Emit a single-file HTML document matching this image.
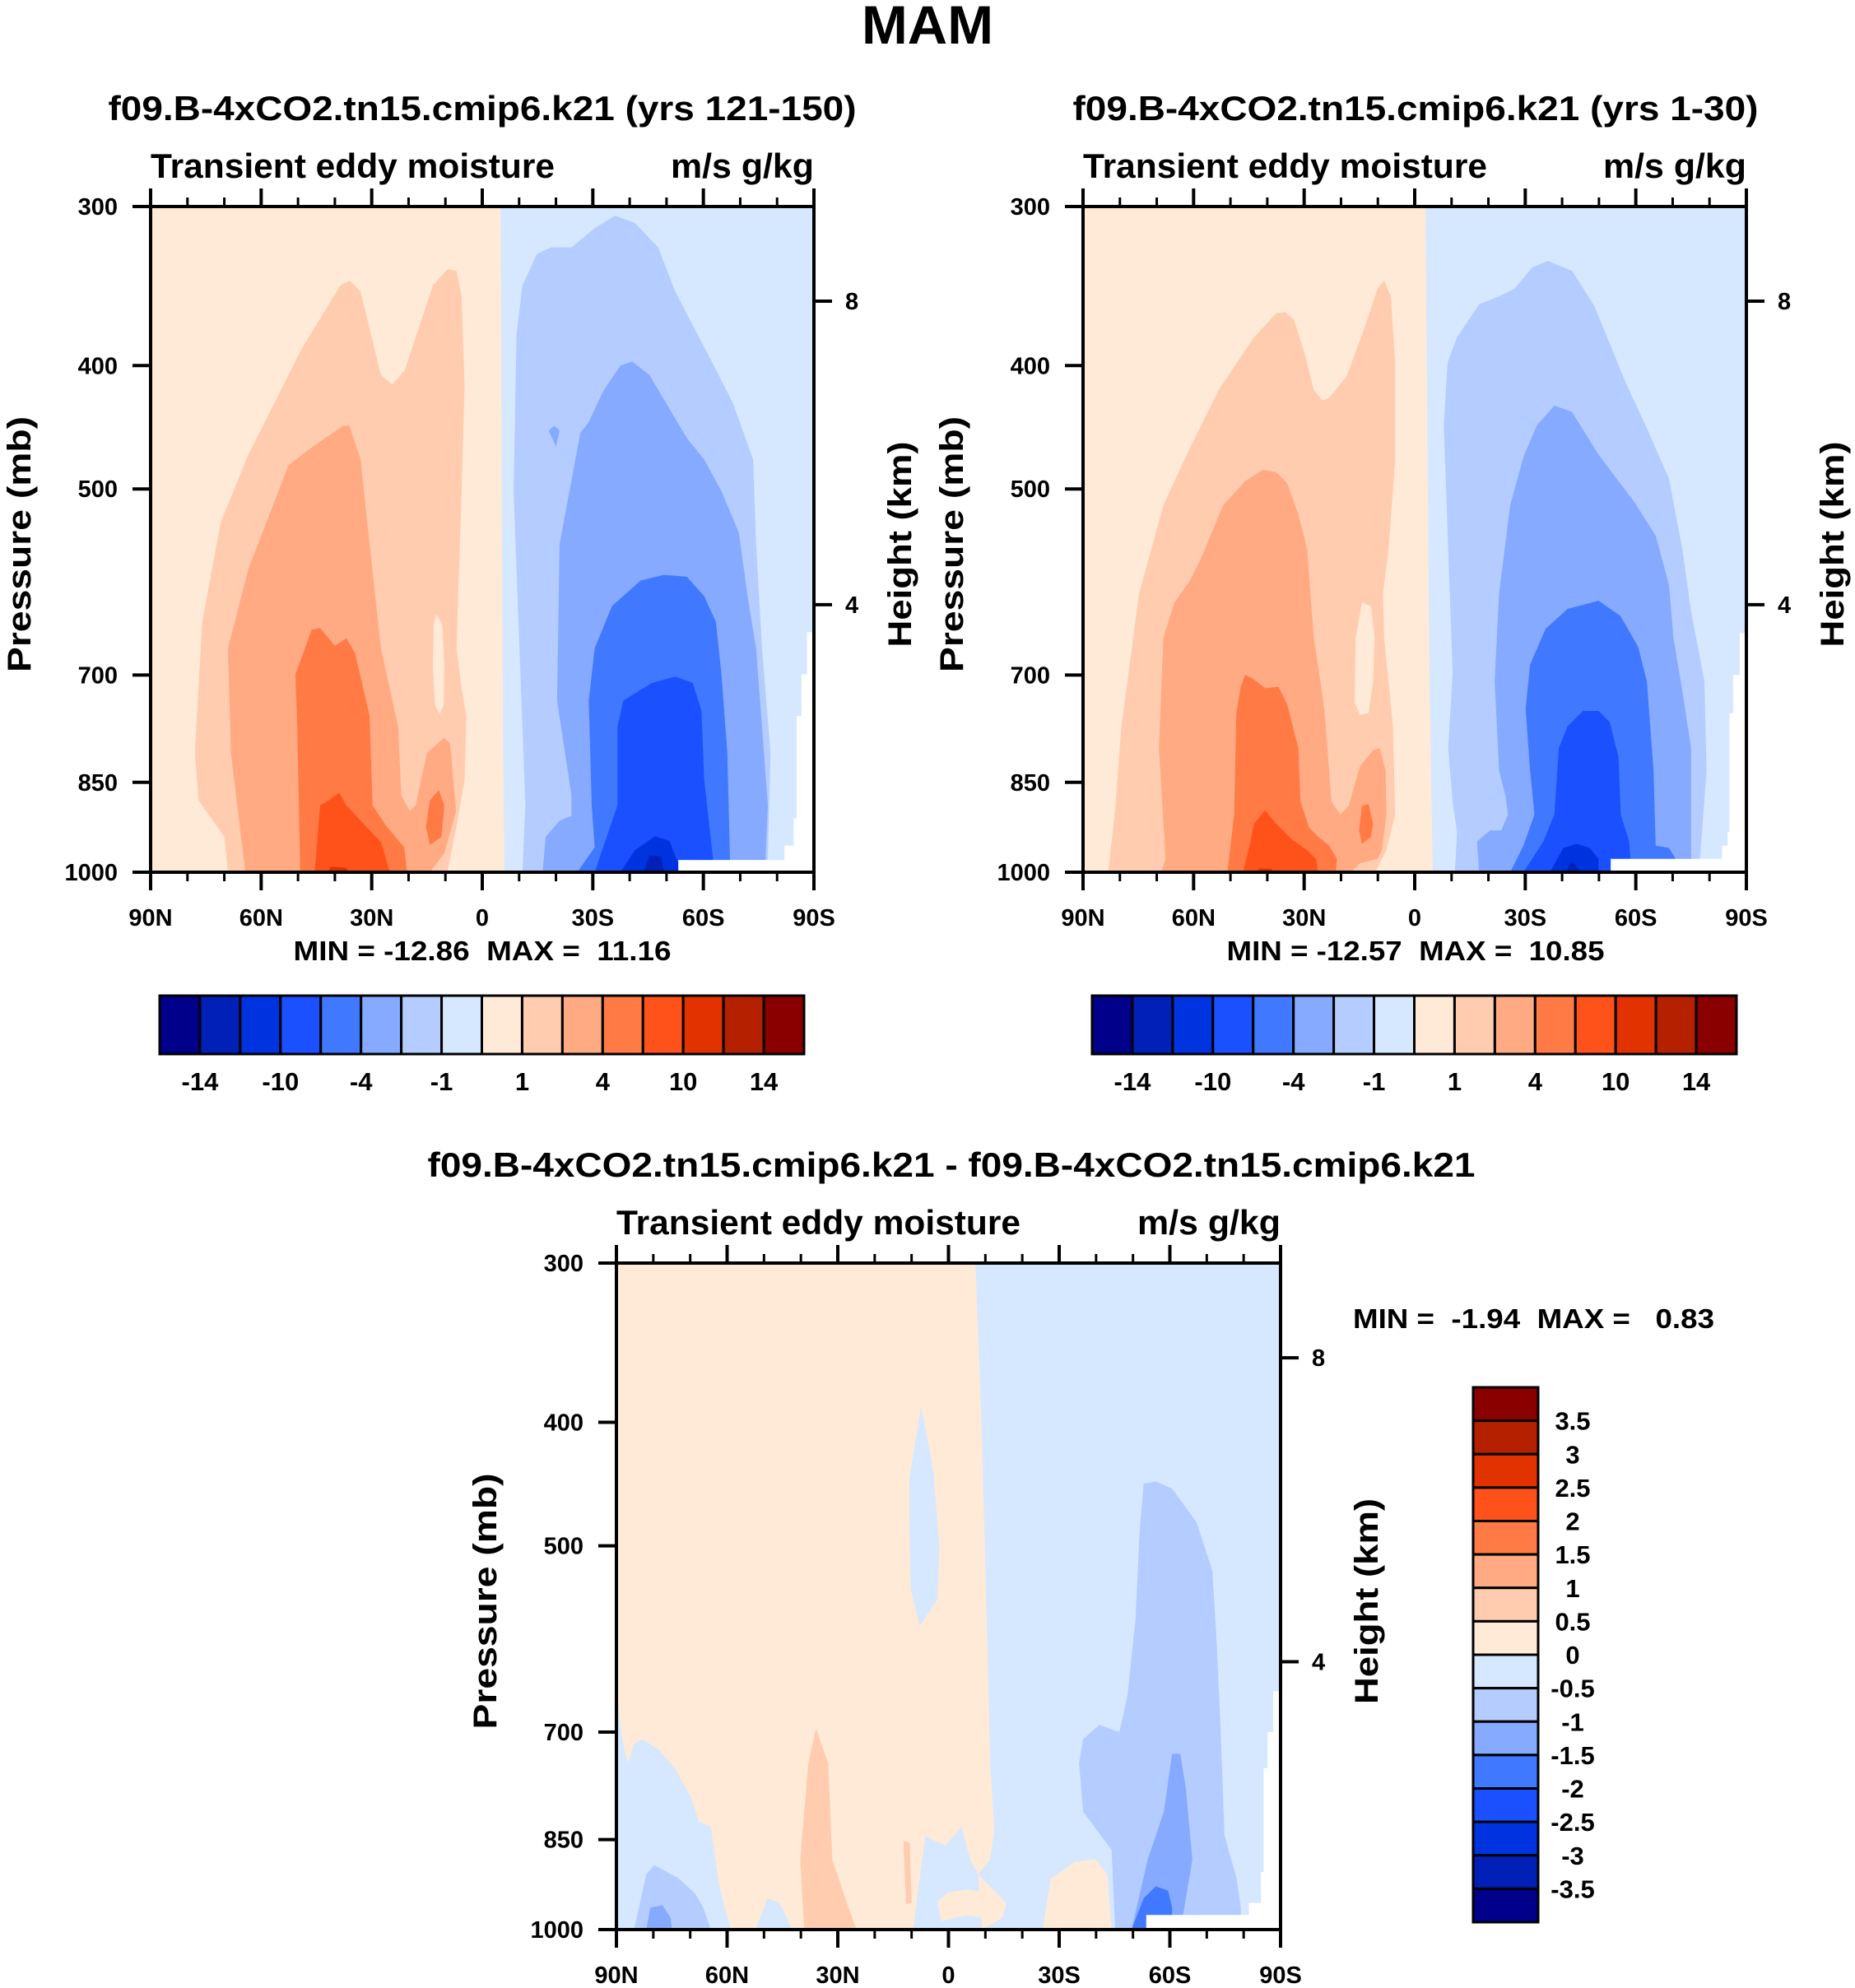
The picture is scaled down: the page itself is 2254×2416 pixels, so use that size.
<!DOCTYPE html>
<html><head><meta charset="utf-8"><style>
html,body{margin:0;padding:0;background:#fff;}
svg{display:block;font-family:"Liberation Sans",Arial,sans-serif;font-weight:bold;}
.pre{white-space:pre;}
</style></head><body>
<svg id="fig" width="2254" height="2416" viewBox="0 0 2254 2416" xmlns="http://www.w3.org/2000/svg">
<text x="1127" y="53" text-anchor="middle" font-size="66" textLength="160" lengthAdjust="spacingAndGlyphs">MAM</text>
</svg>
<script>
// ---- data ----
const colorsAbs = ["#00008a","#0020b8","#0033e0","#1a50ff","#4078ff","#85aaff","#b4ccff","#d5e8ff","#ffead7","#ffccb0","#ffaa82","#ff7a45","#ff521b","#e23200","#b42000","#8a0000"];
const absTickLabels = ["-14","-10","-4","-1","1","4","10","14"];
const absTickIndex = [1,3,5,7,9,11,13,15];
const diffLabels = ["3.5","3","2.5","2","1.5","1","0.5","0","-0.5","-1","-1.5","-2","-2.5","-3","-3.5"];
const pressureTicks = [300,400,500,700,850,1000];
const heightTicks = [8,4];
const latMajor = [90,60,30,0,-30,-60,-90];
const latMajorLabels = ["90N","60N","30N","0","30S","60S","90S"];
const latMinor = [80,70,50,40,20,10,-10,-20,-40,-50,-70,-80];

// Panel 1 (yrs 121-150): contour regions as [lat, pressure] pairs
const p1Bg = [[-5,300],[-5.5,700],[-6,1000]];
const p1Regions = [
 {c:"#ffccb0", pts:[[69,1000],[70,938],[77,878],[78,806],[76,636],[71,531],[63.5,470],[49,388],[38.5,346],[36,343],[33,350],[27.5,407],[24.4,414],[21,403],[13.4,346],[9.5,336],[7,337],[5.6,353],[4.8,415],[5.6,502],[7,667],[5.5,720],[4.3,754],[4.8,846],[7,921],[9.5,1000]]},
 {c:"#ffead7", pts:[[12.5,627],[10.8,640],[10.3,690],[10.5,740],[11.5,751],[12.8,740],[13.4,690],[13.2,640]]},
 {c:"#ffaa82", pts:[[64.3,1000],[68.2,806],[69,667],[63.5,578],[52.6,479],[45.5,462],[37.7,446],[36.1,446],[33,474],[30.6,552],[27.5,667],[22.8,769],[22,870],[19.7,895],[18.1,886],[15,806],[10.3,784],[8.7,793],[7.1,895],[10.3,966],[14.2,1000]]},
 {c:"#ff7a45", pts:[[49.4,1000],[50.2,769],[50.7,699],[46.3,645],[44,643],[40,664],[36.9,655],[34.5,673],[30.6,754],[29.8,886],[25.9,921],[21.2,956],[20.4,1000]]},
 {c:"#ff7a45", pts:[[14.2,878],[11.8,862],[10.3,886],[11.1,938],[14.2,952],[15.3,921]]},
 {c:"#ff521b", pts:[[45.5,1000],[44,886],[41.6,878],[38.8,866],[36.9,886],[33,911],[27.5,947],[25.1,1000]]},
 {c:"#e23200", pts:[[42,1000],[41,990],[37,992],[36,1000]]},
 {c:"#b4ccff", pts:[[-10.9,1000],[-11.7,886],[-10.1,667],[-8.5,502],[-9.3,378],[-10.9,346],[-14.8,327],[-18.7,323],[-24.2,323],[-30.5,312],[-36,305],[-41.4,309],[-47.7,323],[-52.4,350],[-63.4,403],[-68,428],[-73.5,474],[-74.3,552],[-75.9,667],[-78.2,806],[-77.5,975],[-76.7,1000]]},
 {c:"#85aaff", pts:[[-16.4,1000],[-17.2,938],[-21,911],[-24.2,903],[-24.2,870],[-20.3,733],[-21,552],[-25,479],[-26.6,452],[-28.9,443],[-32.8,419],[-37.5,400],[-40.7,397],[-45.4,407],[-55.5,456],[-60.2,474],[-64.9,502],[-69.6,541],[-72,607],[-74.3,667],[-75.9,769],[-77.5,886],[-76.7,1000]]},
 {c:"#85aaff", pts:[[-18,450],[-19.5,446],[-21,450],[-20,463]]},
 {c:"#4078ff", pts:[[-25.8,1000],[-30.5,956],[-29.7,886],[-28.9,733],[-30.5,667],[-35.2,618],[-43,590],[-49.3,584],[-55.5,586],[-60.2,607],[-63.4,636],[-64.9,699],[-66.5,806],[-67.3,1000]]},
 {c:"#1a50ff", pts:[[-30.5,1000],[-36.7,886],[-36.7,769],[-38.3,733],[-46.1,710],[-52.4,702],[-57.1,710],[-59.5,747],[-60.2,846],[-62.6,975],[-62.6,1000]]},
 {c:"#0033e0", pts:[[-37.5,1000],[-41.4,961],[-46.9,937],[-50.8,945],[-53.2,985],[-54,1000]]},
 {c:"#0020b8", pts:[[-43.8,1000],[-45.4,970],[-48.5,972],[-49.3,1000]]},
 {c:"#ffffff", pts:[[-88.1,648],[-88.1,699],[-86.6,699],[-86.6,754],[-85.3,754],[-85.3,907],[-84.5,907],[-84.5,953],[-82,953],[-82,978],[-53.2,978],[-53.2,1000],[-90,1000],[-90,648]]}
];

// Panel 2 (yrs 1-30)
const p2Bg = [[-2.9,300],[-4,700],[-4.9,1000]];
const p2Regions = [
 {c:"#ffccb0", pts:[[83.2,1000],[81.4,901],[79.6,768],[74.8,604],[68.2,515],[61.6,468],[53.2,418],[43.6,380],[37.6,364],[35.2,363],[32.8,368],[29.8,392],[27.4,418],[25,426],[23.2,424],[18.5,408],[13.7,374],[10.1,348],[8.3,343],[6.5,353],[5.3,398],[5.3,475],[7.1,557],[8.6,604],[8.3,654],[5.9,768],[5.3,901],[7.7,961],[10.7,1000]]},
 {c:"#ffead7", pts:[[16,654],[14.3,614],[11.9,618],[10.9,654],[11.3,708],[12.5,750],[14.9,752],[16.3,735]]},
 {c:"#ffaa82", pts:[[68.8,1000],[67.6,976],[69.4,799],[68.2,654],[65.2,614],[61,590],[58,567],[52,515],[46,493],[41.2,483],[37.6,485],[34.6,495],[31.6,523],[29.2,557],[27.4,654],[25.6,708],[24.4,750],[22.6,880],[20.2,901],[17.9,887],[14.9,826],[11.3,802],[9.5,799],[7.9,832],[7.7,901],[8.9,961],[10.1,976],[14.9,984],[17.3,1000]]},
 {c:"#ff7a45", pts:[[50.8,1000],[49,901],[48.4,750],[47.2,715],[46,700],[44.2,704],[42.4,710],[40.6,717],[37,715],[34.6,738],[31.6,799],[31,880],[28.6,923],[26.2,938],[23.2,953],[21.1,976],[21.4,1000]]},
 {c:"#ff7a45", pts:[[15.1,927],[14.3,887],[12.5,884],[11.3,916],[11.9,938],[14.3,950]]},
 {c:"#ff521b", pts:[[46.6,1000],[44.8,953],[43.6,916],[40.6,894],[37.6,916],[33.4,942],[29.2,961],[26.8,976],[26.2,1000]]},
 {c:"#e23200", pts:[[43,1000],[42,993],[39,994],[38,1000]]},
 {c:"#b4ccff", pts:[[-10.9,1000],[-11.5,930],[-10.3,880],[-9.1,799],[-10.3,698],[-9.1,557],[-7.9,446],[-8.9,398],[-11.5,380],[-17.5,358],[-22.9,353],[-27.1,348],[-31.9,335],[-36.1,331],[-42.7,337],[-48.7,359],[-54.6,395],[-57,411],[-63,448],[-69,491],[-72.6,557],[-75,624],[-78.6,708],[-79.2,832],[-77.4,976],[-76.8,1000]]},
 {c:"#85aaff", pts:[[-17.5,1000],[-16.9,946],[-20.5,927],[-23.5,927],[-25.3,901],[-24.7,873],[-22.9,832],[-21.7,708],[-22.9,604],[-25.9,515],[-29.5,472],[-33.1,446],[-37.9,430],[-42.7,435],[-49.9,470],[-59.4,511],[-65.4,544],[-69,595],[-70.2,654],[-72.6,720],[-75,799],[-75,976],[-74.4,1000]]},
 {c:"#4078ff", pts:[[-25.9,1000],[-29.5,953],[-32.5,901],[-31.3,832],[-30.1,744],[-31.3,687],[-35.5,644],[-41.5,621],[-49.9,612],[-55.8,629],[-60.6,665],[-63,708],[-64.8,832],[-65.4,953],[-69,957],[-70.8,976],[-71.4,1000]]},
 {c:"#1a50ff", pts:[[-29.5,1000],[-34.9,946],[-37.9,901],[-39.1,799],[-41.5,768],[-45.7,747],[-49.9,747],[-52.9,762],[-55.3,812],[-55.9,901],[-58.2,946],[-58.8,1000]]},
 {c:"#0033e0", pts:[[-36.7,1000],[-40.3,957],[-43.9,950],[-47.5,957],[-49.9,976],[-49.9,1000]]},
 {c:"#0020b8", pts:[[-40.9,1000],[-42.7,980],[-45.1,1000]]},
 {c:"#ffffff", pts:[[-88.2,649],[-88.2,700],[-86.4,700],[-86.4,750],[-85.4,750],[-85.4,930],[-84.9,930],[-84.9,953],[-83.4,953],[-83.4,976],[-53.2,976],[-53.2,1000],[-90,1000],[-90,649]]}
];

// Panel 3 (difference)
const p3Bg = [[-7.3,300],[-9,403],[-10.2,547],[-11.3,741],[-12.4,837],[-11.3,881],[-8,905],[-15.7,953],[-14.6,979],[-9.1,1000]];
const p3Regions = [
 {c:"#d5e8ff", pts:[[90,644],[88.5,709],[86.9,741],[85.2,715],[83,709],[78.6,722],[74.2,747],[69.8,787],[67.6,823],[64.4,830],[62.2,921],[59.9,979],[58.9,1000],[90,1000]]},
 {c:"#b4ccff", pts:[[85.2,1000],[81.9,905],[79.7,890],[73.1,912],[68.7,937],[66.5,961],[64.4,1000]]},
 {c:"#85aaff", pts:[[81.9,1000],[80.8,961],[77.5,957],[75.3,979],[74.9,1000]]},
 {c:"#d5e8ff", pts:[[52.3,1000],[49,945],[45.7,953],[42.4,1000]]},
 {c:"#ffccb0", pts:[[39.1,1000],[40.2,881],[38,741],[35.9,695],[32.6,741],[31.5,881],[27.1,961],[24.9,1000]]},
 {c:"#ffccb0", pts:[[12.2,852],[10.5,855],[10,953],[11.5,955]]},
 {c:"#d5e8ff", pts:[[10.6,443],[7.4,388],[4.1,437],[2.5,501],[3,551],[7.8,578],[10.2,541],[10.6,479]]},
 {c:"#d5e8ff", pts:[[9.6,1000],[8.5,945],[6.3,844],[4.1,851],[0.8,859],[-3.6,830],[-5.8,881],[-8,905],[-9.1,1000]]},
 {c:"#ffead7", pts:[[3,950],[0,935],[-5,930],[-10,935],[-14,960],[-12,980],[-5,975],[2,985]]},
 {c:"#ffead7", pts:[[-25.5,1000],[-27.7,912],[-34.3,885],[-39.8,881],[-43,905],[-44.2,1000]]},
 {c:"#b4ccff", pts:[[-45.2,1000],[-44.2,866],[-36.5,808],[-35.4,741],[-36.5,709],[-40.9,691],[-46.3,700],[-48.5,656],[-50.7,571],[-51.8,488],[-52.9,447],[-56.2,445],[-60.6,451],[-67.2,479],[-71.5,523],[-72.7,596],[-73.7,691],[-74.8,844],[-78.1,912],[-79.2,960],[-79.2,1000]]},
 {c:"#85aaff", pts:[[-49.6,1000],[-54,881],[-58.4,808],[-60.6,728],[-62.8,728],[-64.3,774],[-66.1,881],[-63.9,962],[-62.8,1000]]},
 {c:"#4078ff", pts:[[-49.6,1000],[-52.9,945],[-56.2,925],[-59.5,932],[-60.6,961],[-60.6,1000]]},
 {c:"#ffead7", pts:[[-66,1000],[-68,975],[-70,1000]]},
 {c:"#ffffff", pts:[[-88,650],[-88,700],[-86.5,700],[-86.5,747],[-85.4,747],[-85.4,901],[-84.7,901],[-84.7,953],[-81.4,953],[-81.4,974],[-53.6,974],[-53.6,1000],[-90,1000],[-90,650]]}
];

// ---- drawing ----
const NS = "http://www.w3.org/2000/svg";
const svg = document.getElementById("fig");
function mk(tag, attrs, parent) {
  const e = document.createElementNS(NS, tag);
  for (const k in attrs) e.setAttribute(k, attrs[k]);
  (parent || svg).appendChild(e);
  return e;
}
function txt(str, attrs, parent) { const t = mk("text", attrs, parent); t.textContent = str; return t; }
const LNP = Math.log(1000/300);
function heightToP(km) { return 1013.25 * Math.pow(1 - 2.25577e-5 * km * 1000, 5.25588); }

function panel(o) {
  const g = mk("g", {});
  
  
  const L = o.x, T = o.y, W = o.w, H = o.h;
  const xs = lat => L + (90 - lat) / 180 * W;
  const ys = p => T + H - H * Math.log(1000 / p) / LNP;
  const path = pts => pts.map((q, i) => (i ? "L" : "M") + xs(q[0]).toFixed(1) + " " + ys(q[1]).toFixed(1)).join(" ") + " Z";
  const plot = mk("g", {}, g);
  
  
  const bgL = mk("rect", {x:L, y:T, width:W, height:H, fill:"#d5e8ff"}, plot);
  
  
  const bgpts = [[90,300]].concat(o.bg).concat([[90,1000]]);
  const bgR = mk("path", {d: path(bgpts), fill:"#ffead7"}, plot);
  
  
  o.regions.forEach(r => {
    const e = mk("path", {d: path(r.pts), fill: r.c}, plot);
    
    
  });
  const fr = mk("rect", {x:L, y:T, width:W, height:H, fill:"none", stroke:"#000", "stroke-width":4}, g);
  
  
  latMajor.forEach((lat, i) => {
    const x = xs(lat);
    mk("line", {x1:x, x2:x, y1:T, y2:T-22, stroke:"#000", "stroke-width":4}, g);
    mk("line", {x1:x, x2:x, y1:T+H, y2:T+H+22, stroke:"#000", "stroke-width":4}, g);
    const t = txt(latMajorLabels[i], {x:x, y:T+H+65, "text-anchor":"middle", "font-size":29}, g);
    
    
  });
  latMinor.forEach(lat => {
    const x = xs(lat);
    mk("line", {x1:x, x2:x, y1:T, y2:T-11, stroke:"#000", "stroke-width":3}, g);
    mk("line", {x1:x, x2:x, y1:T+H, y2:T+H+11, stroke:"#000", "stroke-width":3}, g);
  });
  pressureTicks.forEach(p => {
    const y = ys(p);
    mk("line", {x1:L, x2:L-22, y1:y, y2:y, stroke:"#000", "stroke-width":4}, g);
    const t = txt(String(p), {x:L-40, y:y+10, "text-anchor":"end", "font-size":29}, g);
    
    
  });
  heightTicks.forEach(h => {
    const y = ys(heightToP(h));
    mk("line", {x1:L+W, x2:L+W+22, y1:y, y2:y, stroke:"#000", "stroke-width":4}, g);
    const t = txt(String(h), {x:L+W+38, y:y+10, "text-anchor":"start", "font-size":29}, g);
    
    
  });
  const t1 = txt("Transient eddy moisture", {x:L, y:T-35, "font-size":42, textLength:491, lengthAdjust:"spacingAndGlyphs"}, g);
  
  
  const t2 = txt("m/s g/kg", {x:L+W, y:T-35, "text-anchor":"end", "font-size":42, textLength:174, lengthAdjust:"spacingAndGlyphs"}, g);
  
  
  const cy = T + H/2 + 6;
  const yt = txt("Pressure (mb)", {x:0, y:0, "text-anchor":"middle", "font-size":40, textLength:311, lengthAdjust:"spacingAndGlyphs", transform:`translate(${L-146},${cy}) rotate(-90)`}, g);
  
  
  const ht = txt("Height (km)", {x:0, y:0, "text-anchor":"middle", "font-size":40, textLength:250, lengthAdjust:"spacingAndGlyphs", transform:`translate(${L+W+118},${cy}) rotate(-90)`}, g);
  
  
  const tt = txt(o.title, {x:o.titleX, y:T-105, "text-anchor":"middle", "font-size":42, textLength:o.titleW, lengthAdjust:"spacingAndGlyphs"}, g);
  
  
  return g;
}

function hColorbar(x, y, w, h, name) {
  const g = mk("g", {});
  
  
  const bw = w / colorsAbs.length;
  colorsAbs.forEach((c, i) => {
    const r = mk("rect", {x:x+i*bw, y:y, width:bw, height:h, fill:c, stroke:"#000", "stroke-width":3}, g);
    
    
  });
  absTickLabels.forEach((s, i) => {
    const t = txt(s, {x:x+absTickIndex[i]*bw, y:y+h+44, "text-anchor":"middle", "font-size":31}, g);
    
    
  });
}

function vColorbar(x, y, w, h) {
  const g = mk("g", {});
  
  
  const n = colorsAbs.length, bh = h / n;
  for (let i = 0; i < n; i++) {
    const r = mk("rect", {x:x, y:y+i*bh, width:w, height:bh, fill:colorsAbs[n-1-i], stroke:"#000", "stroke-width":3}, g);
    
    
  }
  diffLabels.forEach((s, i) => {
    const t = txt(s, {x:x+w+42, y:y+(i+1)*bh+11, "text-anchor":"middle", "font-size":31}, g);
    
    
  });
}

panel({name:"panel-yrs-121-150", x:183, y:251, w:806, h:809, bg:p1Bg, regions:p1Regions,
  title:"f09.B-4xCO2.tn15.cmip6.k21 (yrs 121-150)", titleX:586, titleW:909});
panel({name:"panel-yrs-1-30", x:1316, y:251, w:806, h:809, bg:p2Bg, regions:p2Regions,
  title:"f09.B-4xCO2.tn15.cmip6.k21 (yrs 1-30)", titleX:1720, titleW:833});
panel({name:"panel-difference", x:749, y:1535, w:807, h:810, bg:p3Bg, regions:p3Regions,
  title:"f09.B-4xCO2.tn15.cmip6.k21 - f09.B-4xCO2.tn15.cmip6.k21", titleX:1156, titleW:1273});

const m1 = txt("MIN = -12.86  MAX =  11.16", {x:586, y:1167, "text-anchor":"middle", "font-size":33, textLength:459, lengthAdjust:"spacingAndGlyphs", "class":"pre"});


const m2 = txt("MIN = -12.57  MAX =  10.85", {x:1720, y:1167, "text-anchor":"middle", "font-size":33, textLength:459, lengthAdjust:"spacingAndGlyphs", "class":"pre"});


const m3 = txt("MIN =  -1.94  MAX =   0.83", {x:1644, y:1614, "font-size":33, textLength:439, lengthAdjust:"spacingAndGlyphs", "class":"pre"});



hColorbar(194, 1210, 783, 71, "colorbar-left");
hColorbar(1327, 1210, 783, 71, "colorbar-right");
vColorbar(1790, 1686, 79, 650);
</script>
</body></html>
